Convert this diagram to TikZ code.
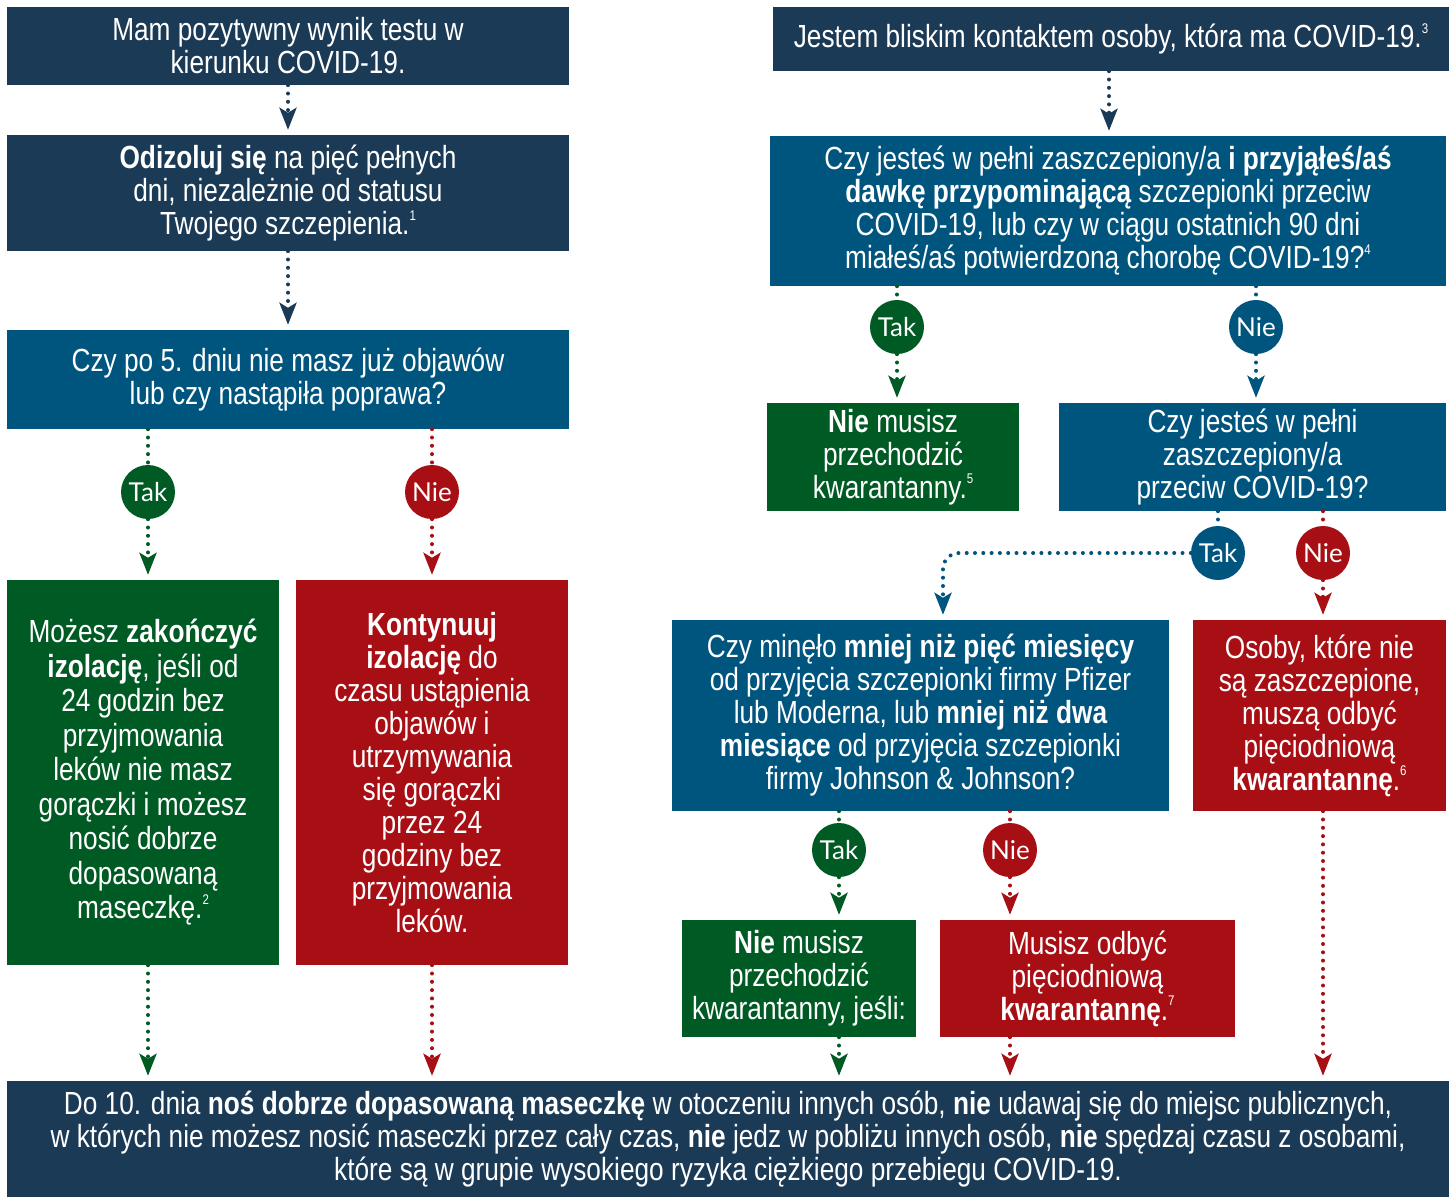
\documentclass[tikz,border=0pt]{standalone}
\usepackage{fontspec}
\setmainfont{Liberation Sans}[FakeStretch=0.82]
\newfontfamily\circfont{Lato}
\usetikzlibrary{arrows.meta}
\definecolor{navyc}{HTML}{1B3A56}
\definecolor{bluec}{HTML}{00557F}
\definecolor{greenc}{HTML}{005A24}
\definecolor{redc}{HTML}{A80F15}
\newcommand\sups[1]{\raisebox{0.85ex}{\fontsize{14}{14}\selectfont #1}}
\tikzset{
  box/.style={text=white, inner sep=0pt, align=center, font=\fontsize{32}{33}\selectfont},
  circ/.style={circle, minimum size=54pt, inner sep=0pt, text=white, font=\circfont\fontsize{26}{26}\selectfont},
  dotline/.style={line width=4pt, dash pattern=on 0pt off 8.3pt, line cap=round},
  arr/.style={dotline, -{Stealth[length=22pt, width=17pt, inset=5pt]}, shorten >=5pt},
}
\begin{document}
\begin{tikzpicture}[x=1pt, y=-1pt]
\useasboundingbox (0,0) rectangle (1454,1197);
% left column
\node[box, fill=navyc, minimum width=562pt, minimum height=78pt] (A) at (288,46) {Mam pozytywny wynik testu w\\kierunku COVID-19.};
\node[box, fill=navyc, minimum width=562pt, minimum height=116pt] (B) at (288,193) {\textbf{Odizoluj się} na pięć pełnych\\dni, niezależnie od statusu\\Twojego szczepienia.\sups{1}};
\node[box, fill=bluec, minimum width=562pt, minimum height=99pt] (C) at (288,379.5) {Czy po 5. dniu nie masz już objawów\\lub czy nastąpiła poprawa?};
\node[circ, fill=greenc] (T1) at (148,492) {Tak};
\node[circ, fill=redc] (N1) at (432,492) {Nie};
\node[box, fill=greenc, minimum width=272pt, minimum height=385pt, font=\fontsize{32}{34.5}\selectfont] (D) at (143,772.5) {Możesz \textbf{zakończyć}\\\textbf{izolację}, jeśli od\\24 godzin bez\\przyjmowania\\leków nie masz\\gorączki i możesz\\nosić dobrze\\dopasowaną\\maseczkę.\sups{2}};
\node[box, fill=redc, minimum width=272pt, minimum height=385pt] (E) at (432,772.5) {\textbf{Kontynuuj}\\\textbf{izolację} do\\czasu ustąpienia\\objawów i\\utrzymywania\\się gorączki\\przez 24\\godziny bez\\przyjmowania\\leków.};
% right column
\node[box, fill=navyc, minimum width=676pt, minimum height=64pt] (F) at (1111,39) {Jestem bliskim kontaktem osoby, która ma COVID-19.\sups{3}};
\node[box, fill=bluec, minimum width=676pt, minimum height=150pt] (G) at (1108,211) {Czy jesteś w pełni zaszczepiony/a \textbf{i przyjąłeś/aś}\\\textbf{dawkę przypominającą} szczepionki przeciw\\COVID-19, lub czy w ciągu ostatnich 90 dni\\miałeś/aś potwierdzoną chorobę COVID-19?\sups{4}};
\node[circ, fill=greenc] (T2) at (897,327) {Tak};
\node[circ, fill=bluec] (N2) at (1256,327) {Nie};
\node[box, fill=greenc, minimum width=252pt, minimum height=108pt] (H) at (893,457) {\textbf{Nie} musisz\\przechodzić\\kwarantanny.\sups{5}};
\node[box, fill=bluec, minimum width=387pt, minimum height=108pt] (I) at (1252.5,457) {Czy jesteś w pełni\\zaszczepiony/a\\przeciw COVID-19?};
\node[circ, fill=bluec] (T3) at (1218,553) {Tak};
\node[circ, fill=redc] (N3) at (1323,553) {Nie};
\node[box, fill=bluec, minimum width=497pt, minimum height=191pt] (J) at (920.5,715.5) {Czy minęło \textbf{mniej niż pięć miesięcy}\\od przyjęcia szczepionki firmy Pfizer\\lub Moderna, lub \textbf{mniej niż dwa}\\\textbf{miesiące} od przyjęcia szczepionki\\firmy Johnson \& Johnson?};
\node[box, fill=redc, minimum width=253pt, minimum height=191pt] (K) at (1319.5,715.5) {Osoby, które nie\\są zaszczepione,\\muszą odbyć\\pięciodniową\\\textbf{kwarantannę}.\sups{6}};
\node[circ, fill=greenc] (T4) at (839,850) {Tak};
\node[circ, fill=redc] (N4) at (1010,850) {Nie};
\node[box, fill=greenc, minimum width=234pt, minimum height=117pt] (L) at (799,978.5) {\textbf{Nie} musisz\\przechodzić\\kwarantanny, jeśli:};
\node[box, fill=redc, minimum width=295pt, minimum height=117pt] (M) at (1087.5,978.5) {Musisz odbyć\\pięciodniową\\\textbf{kwarantannę}.\sups{7}};
% bottom
\node[box, fill=navyc, minimum width=1442pt, minimum height=116pt] (NB) at (728,1139) {Do 10. dnia \textbf{noś dobrze dopasowaną maseczkę} w otoczeniu innych osób, \textbf{nie} udawaj się do miejsc publicznych,\\w których nie możesz nosić maseczki przez cały czas, \textbf{nie} jedz w pobliżu innych osób, \textbf{nie} spędzaj czasu z osobami,\\które są w grupie wysokiego ryzyka ciężkiego przebiegu COVID-19.};
% connectors
\draw[arr, navyc] (A) -- (B);
\draw[arr, navyc] (B) -- (C);
\draw[dotline, greenc] (C.south -| T1) -- (T1);
\draw[arr, greenc] (T1) -- (D.north -| T1);
\draw[dotline, redc] (C.south -| N1) -- (N1);
\draw[arr, redc] (N1) -- (E.north -| N1);
\draw[arr, greenc] (D.south -| T1) -- (NB.north -| T1);
\draw[arr, redc] (E.south -| N1) -- (NB.north -| N1);
\draw[arr, navyc] (F.south -| 1109,0) -- (G.north -| 1109,0);
\draw[dotline, greenc] (G.south -| T2) -- (T2);
\draw[arr, greenc] (T2) -- (H.north -| T2);
\draw[dotline, bluec] (G.south -| N2) -- (N2);
\draw[arr, bluec] (N2) -- (I.north -| N2);
\draw[dotline, bluec] (I.south -| T3) -- (T3);
\draw[arr, bluec, rounded corners=16pt] (T3) -| ([xshift=22.5pt]J.north);
\draw[dotline, redc] (I.south -| N3) -- (N3);
\draw[arr, redc] (N3) -- (K.north -| N3);
\draw[dotline, greenc] (J.south -| T4) -- (T4);
\draw[arr, greenc] (T4) -- (L.north -| T4);
\draw[dotline, redc] (J.south -| N4) -- (N4);
\draw[arr, redc] (N4) -- (M.north -| N4);
\draw[arr, greenc] (L.south -| T4) -- (NB.north -| T4);
\draw[arr, redc] (M.south -| N4) -- (NB.north -| N4);
\draw[arr, redc] (K.south -| N3) -- (NB.north -| N3);
\end{tikzpicture}
\end{document}
